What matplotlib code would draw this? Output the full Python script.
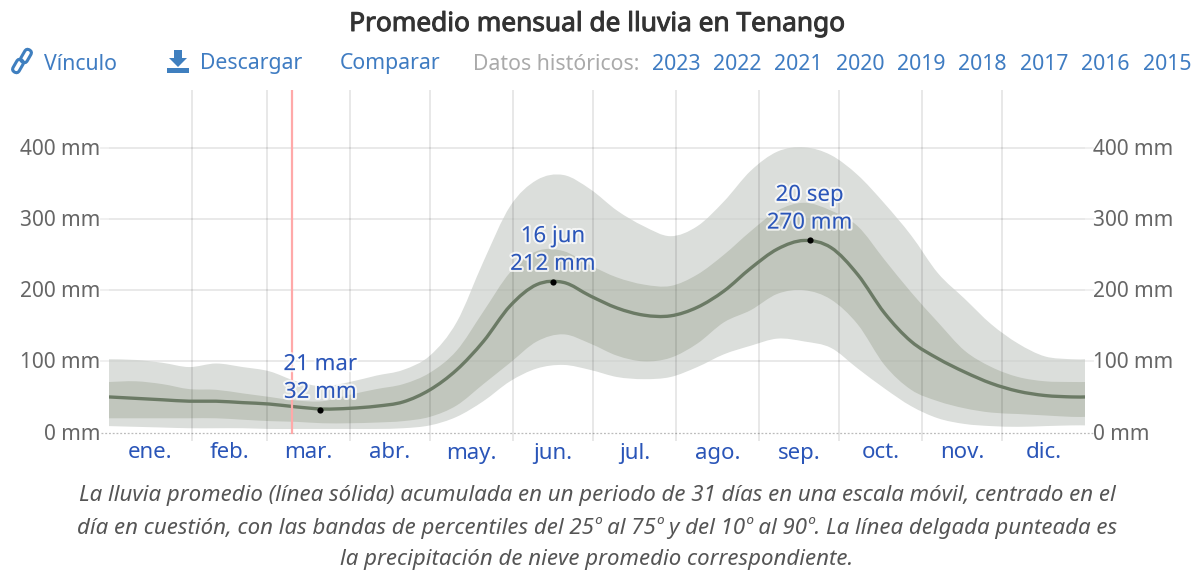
import matplotlib
matplotlib.use("Agg")
import matplotlib.pyplot as plt
import matplotlib.patheffects as pe
import numpy as np
from matplotlib.patches import Polygon, Rectangle, FancyBboxPatch, PathPatch
from matplotlib.path import Path
from matplotlib.transforms import Affine2D

plt.rcParams['font.family'] = ['Noto Sans', 'DejaVu Sans']

title = "Promedio mensual de lluvia en Tenango"
months = ["ene.", "feb.", "mar.", "abr.", "may.", "jun.", "jul.", "ago.", "sep.", "oct.", "nov.", "dic."]
month_starts = [0, 31, 59, 90, 120, 151, 181, 212, 243, 273, 304, 334, 365]
years = ["2023", "2022", "2021", "2020", "2019", "2018", "2017", "2016", "2015"]
y_ticks = [0, 100, 200, 300, 400]
today = 68.4

days = list(range(0, 361, 10)) + [365]
mean = [50, 48, 46, 44, 44, 42, 40, 36, 33, 34, 37, 43, 60, 88, 128, 178, 208, 211, 192, 175, 165, 164, 176, 199,
        231, 258, 270, 260, 222, 168, 128, 104, 85, 69, 58, 52, 50, 50]
p75 = [71, 72, 68, 61, 60, 55, 50, 45, 44, 53, 61, 68, 84, 115, 170, 225, 255, 255, 235, 218, 208, 206, 222, 250,
       283, 312, 323, 312, 290, 243, 197, 155, 115, 92, 78, 72, 71, 71]
p90 = [103, 102, 98, 92, 97, 92, 86, 72, 65, 71, 80, 88, 108, 155, 240, 318, 355, 362, 342, 312, 290, 276, 290, 325,
       368, 395, 401, 390, 362, 322, 277, 224, 188, 152, 125, 107, 103, 103]
p25 = [20, 20, 20, 20, 20, 18, 16, 15, 13, 13, 14, 16, 22, 38, 68, 98, 128, 138, 125, 108, 100, 105, 125, 155,
       172, 195, 200, 187, 152, 95, 60, 44, 34, 28, 26, 24, 22, 22]
p10 = [9, 8, 7, 6, 6, 6, 5, 5, 5, 5, 5, 6, 10, 22, 44, 72, 90, 95, 88, 78, 75, 78, 92, 110,
       122, 132, 128, 119, 90, 62, 37, 20, 12, 9, 8, 9, 10, 10]
peak_days = [79, 166, 262]
peak_vals = [32, 212, 270]
peak_dates = ["21 mar", "16 jun", "20 sep"]
foot = ["La lluvia promedio (línea sólida) acumulada en un periodo de 31 días en una escala móvil, centrado en el",
        "día en cuestión, con las bandas de percentiles del 25º al 75º y del 10º al 90º. La línea delgada punteada es",
        "la precipitación de nieve promedio correspondiente."]


def curve(xs, ys):
    """Bezier segments through the given points, as a rounded line join."""
    p = np.column_stack([xs, ys]).astype(float)
    prev = np.vstack([p[0], p[:-1]])
    nxt = np.vstack([p[1:], p[-1]])
    tang = (nxt - prev) / 6
    verts = [p[0]]
    for i in range(len(p) - 1):
        verts += [p[i] + tang[i], p[i + 1] - tang[i + 1], p[i + 1]]
    return np.array(verts)


def band(xs, low, high):
    top = curve(xs, high)
    bot = curve(xs[::-1], low[::-1])
    verts = np.vstack([top, bot, top[0]])
    codes = ([Path.MOVETO] + [Path.CURVE4] * (len(top) - 1) + [Path.LINETO]
             + [Path.CURVE4] * (len(bot) - 1) + [Path.CLOSEPOLY])
    return Path(verts, codes)


W, H = 1200, 571
fig = plt.figure(figsize=(W / 100, H / 100), dpi=100, facecolor="white")

px_per_mm = (432.5 - 148) / 400
ymin = (432.5 - 441) / px_per_mm
ymax = (432.5 - 90) / px_per_mm
ax = fig.add_axes([109 / W, 1 - 441 / H, (1085 - 109) / W, (441 - 90) / H])
ax.set_xlim(0, 365)
ax.set_ylim(ymin, ymax)
ax.axis("off")

for v in y_ticks[1:]:
    ax.plot([-3, 368], [v, v], color="#efefef", lw=1.3, zorder=1, clip_on=False)
ax.plot([-3, 368], [0, 0], color="#bbbbbb", lw=0.9, ls=(0, (1.5, 1.5)), zorder=1, clip_on=False)

ax.add_patch(PathPatch(band(days, p10, p90), fc="#dbdedb", lw=0, zorder=2))
ax.add_patch(PathPatch(band(days, p25, p75), fc="#c1c6bd", lw=0, zorder=3))
for v in y_ticks[1:]:
    ax.plot([0, 365], [v, v], color="#000000", alpha=0.03, lw=1.3, zorder=3.5)
for d in month_starts[1:-1]:
    ax.axvline(d, color="#000000", alpha=0.11, lw=1.2, zorder=4)
mv = curve(days, mean)
ax.add_patch(PathPatch(Path(mv, [Path.MOVETO] + [Path.CURVE4] * (len(mv) - 1)), fc="none",
                       ec="#6b7a65", lw=2.4, capstyle="butt", zorder=5))
ax.plot([today, today], [0, ymax], color="#ffa9a9", lw=1.6, zorder=6)
ax.scatter(peak_days, peak_vals, s=20, color="black", zorder=7, lw=0)

halo = [pe.withStroke(linewidth=3, foreground=(1, 1, 1, 0.75))]
for d, v, ds in zip(peak_days, peak_vals, peak_dates):
    ax.annotate(ds, xy=(d, v), xytext=(0, 32.5), textcoords="offset points", ha="center", va="center",
                fontsize=16, color="#2a55b8", path_effects=halo, zorder=8)
    ax.annotate(f"{v} mm", xy=(d, v), xytext=(0, 12.5), textcoords="offset points", ha="center", va="center",
                fontsize=16, color="#2a55b8", path_effects=halo, zorder=8)

ov = fig.add_axes([0, 0, 1, 1], zorder=10)
ov.set_xlim(0, W)
ov.set_ylim(H, 0)
ov.axis("off")
ov.patch.set_alpha(0)

ov.text(597.5, 24.5, title, ha="center", va="center", fontsize=18.9, color="#333333",
        path_effects=[pe.withStroke(linewidth=0.7, foreground="#333333")])

link_c = "#3f7fbf"
blue = "#3f7cc2"
hy = 64
ov.text(44, hy, "Vínculo", ha="left", va="center", fontsize=15.3, color=blue)
ov.text(200, hy, "Descargar", ha="left", va="center", fontsize=15.3, color=blue)
ov.text(340, hy, "Comparar", ha="left", va="center", fontsize=15.3, color=blue)
ov.text(473, hy, "Datos históricos:", ha="left", va="center", fontsize=15.3, color="#aaaaaa")
for x, yr in zip([676, 737, 798, 860, 921, 982, 1044, 1105, 1167], years):
    ov.text(x, hy, yr, ha="center", va="center", fontsize=15.3, color=blue)

for cx, cy in [(18, 66), (26, 56)]:
    ov.add_patch(FancyBboxPatch((cx - 7, cy - 3.5), 14, 7, boxstyle="round,pad=0,rounding_size=3.5",
                                fc="none", ec=link_c, lw=2.2,
                                transform=Affine2D().rotate_deg_around(cx, cy, -60) + ov.transData))
ov.add_patch(Polygon([(174, 50), (182, 50), (182, 58), (187, 58), (178, 67), (169, 58), (174, 58)], fc=link_c, lw=0))
ov.add_patch(Rectangle((167, 68), 22, 5, fc=link_c, lw=0))

for v in y_ticks:
    y = 434 - v * px_per_mm
    ov.text(100, y, f"{v} mm", ha="right", va="center", fontsize=15, color="#666666")
    ov.text(1093, y, f"{v} mm", ha="left", va="center", fontsize=15, color="#666666")

for i, m in enumerate(months):
    d = (month_starts[i] + month_starts[i + 1]) / 2
    ov.text(109 + d * 976 / 365, 453, m, ha="center", va="center", fontsize=16, color="#2a55b8")

for y, line in zip([496, 528, 560], foot):
    ov.text(597, y, line, ha="center", va="center", fontsize=16, style="italic", color="#555555")

fig.savefig("out.png", dpi=100)
